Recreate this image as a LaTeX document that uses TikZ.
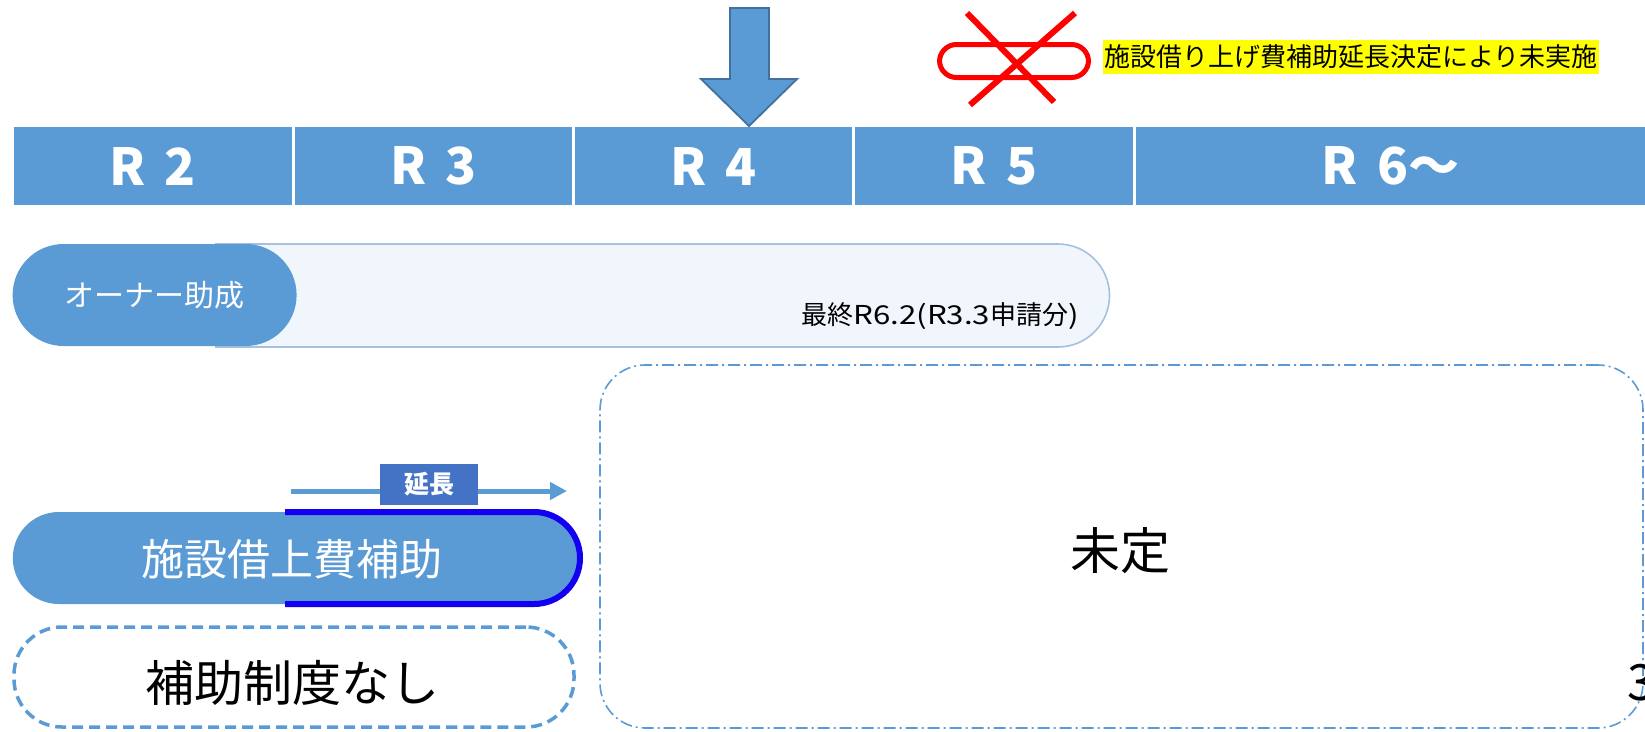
\documentclass[tikz,border=0pt]{standalone}
\usepackage{fontspec}
\usepackage{graphicx}
\setmainfont{Noto Sans CJK JP}
\usetikzlibrary{arrows.meta}
\definecolor{tblue}{HTML}{5B9BD5}
\definecolor{tborder}{HTML}{41719C}
\definecolor{lblue}{HTML}{4472C4}
\definecolor{dblue}{RGB}{20,0,240}
\definecolor{pillborder}{HTML}{A7C0DE}
\definecolor{hlyellow}{RGB}{255,255,0}
\newcommand\widelat[1]{\scalebox{1.2}[1]{#1}}
\begin{document}
\begin{tikzpicture}[x=1pt,y=-1pt,
  cell/.style={fill=tblue,draw=none,minimum height=78pt,inner sep=0pt,text=white,
    font=\bfseries\fontsize{51}{51}\selectfont},
  bluepill/.style={fill=tblue,draw=none,inner sep=0pt,text=white},
  dashpill/.style={draw=tblue,dash pattern=on 11pt off 6pt,line width=3.5pt,inner sep=0pt},
  undecided/.style={draw=tblue,dash pattern=on 12pt off 4pt on 2pt off 4pt,line width=1.6pt,inner sep=0pt},
  extarrow/.style={draw=tblue,line width=5pt,-{Triangle[length=17pt,width=17pt]}},
  extlabel/.style={fill=lblue,text=white,inner sep=0pt,minimum width=98pt,minimum height=41pt,
    font=\bfseries\fontsize{25}{25}\selectfont},
  redline/.style={draw=red,line width=6pt}
]
\useasboundingbox (0,0) rectangle (1645,731);

% timeline cells
\node[cell,minimum width=278pt] (r2) at (152.6,166) {R\hspace{0.38em}2};
\node[cell,minimum width=277pt] (r3) at (433.3,166) {R\hspace{0.38em}3};
\node[cell,minimum width=277pt] (r4) at (713.5,166) {R\hspace{0.38em}4};
\node[cell,minimum width=278pt] (r5) at (994,166) {R\hspace{0.38em}5};
\node[cell,minimum width=509pt] (r6) at (1390.5,166) {R\hspace{0.38em}6～};

% down arrow
\draw[fill=tblue,draw=tborder,line width=1.8pt,line join=miter]
  (730,8) -- (769,8) -- (769,79) -- (797,79) -- (749,126) -- (701,79) -- (730,79) -- cycle;

% crossed-out pill
\node[draw=red,line width=5pt,rounded corners=17pt,minimum width=149pt,minimum height=33pt,inner sep=0pt] (xpill) at (1014,61) {};
\coordinate (xa1) at (967,13);
\coordinate (xa2) at (1054,102);
\coordinate (xb1) at (1075,13);
\coordinate (xb2) at (970,105);
\draw[redline] (xa1) -- (xa2);
\draw[redline] (xb1) -- (xb2);

% yellow note
\node[fill=hlyellow,inner xsep=1pt,inner ysep=0pt,minimum height=34pt,anchor=west,
  font=\fontsize{26}{26}\selectfont] (note) at (1103,57) {施設借り上げ費補助延長決定により未実施};

% owner subsidy row
\path[shading=axis,top color=tblue!9,middle color=white,bottom color=tblue!9]
  (215,244) -- (1058,244) arc[start angle=-90,end angle=90,radius=51.5] -- (215,347) -- cycle;
\draw[draw=pillborder,line width=1.6pt]
  (215,244) -- (1058,244) arc[start angle=-90,end angle=90,radius=51.5] -- (215,347);
\node[bluepill,rounded corners=51pt,minimum width=284pt,minimum height=102pt,
  font=\fontsize{30}{30}\selectfont] (owner) at (154.6,295) {オーナー助成};
\node[anchor=east,inner sep=0pt,font=\fontsize{26}{26}\selectfont] (final) at (1079,316)
  {最終\widelat{R6.2(R3.3}申請分\widelat{)}};

% undecided box
\node[undecided,rounded corners=45pt,minimum width=1043pt,minimum height=363pt] (undec) at (1121.5,546.5) {};
\node[font=\fontsize{50}{50}\selectfont,inner sep=0pt] (undectext) at (1120,551) {未定};

% extension arrow
\coordinate (extS) at (291,491);
\coordinate (extE) at (567,491);
\draw[extarrow] (extS) -- (extE);
\node[extlabel] (extlbl) at (429,484.5) {延長};

% facility rent subsidy
\node[bluepill,rounded corners=46pt,minimum width=567pt,minimum height=92pt] (rent) at (296.3,558) {};
\node[text=white,inner sep=0pt,font=\fontsize{43}{43}\selectfont] (renttext) at (292,559) {施設借上費補助};
\draw[draw=dblue,line width=6pt]
  (285,512) -- (534,512) arc[start angle=-90,end angle=90,radius=46] -- (285,604);

% no subsidy
\node[dashpill,rounded corners=48pt,minimum width=560pt,minimum height=100pt] (none) at (294,677) {};
\node[inner sep=0pt,font=\fontsize{49}{49}\selectfont] (nonetext) at (292,683) {補助制度なし};

% page number (cut at the edge as in the reference)
\node[anchor=west,inner sep=0pt,font=\fontsize{50}{50}\selectfont] (pagenum) at (1627,683) {3};
\end{tikzpicture}
\end{document}
